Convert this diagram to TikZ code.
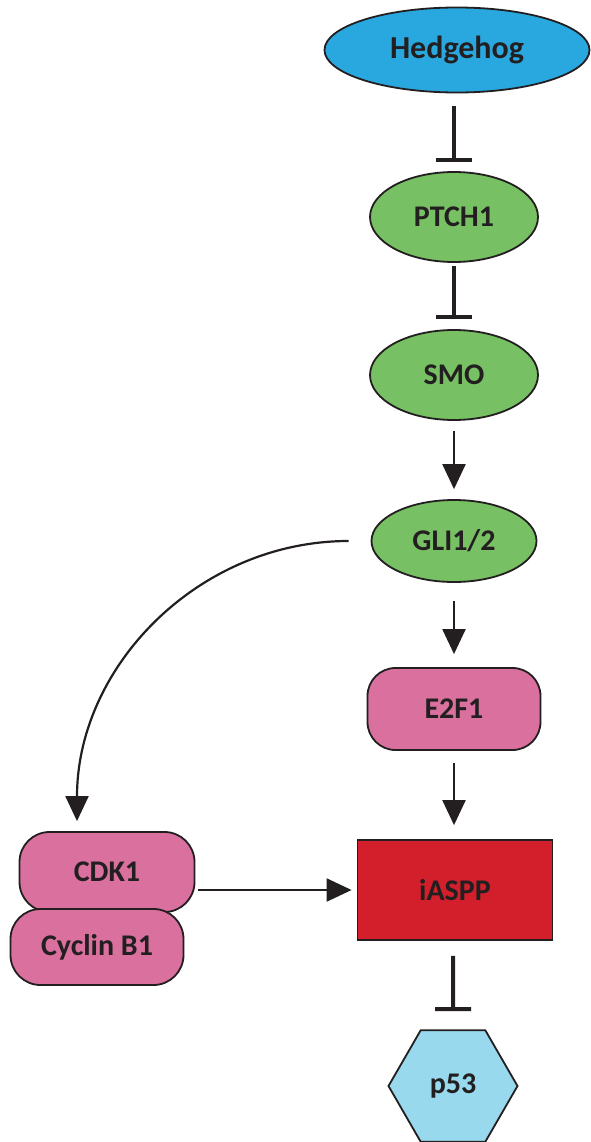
\documentclass[tikz,border=0pt]{standalone}
\usepackage{fontspec}
\setmainfont{Carlito}
\usetikzlibrary{shapes.geometric,arrows.meta}
\definecolor{ink}{HTML}{231F20}
\definecolor{hhblue}{HTML}{29A8E0}
\definecolor{grn}{HTML}{77C063}
\definecolor{pnk}{HTML}{D9709E}
\definecolor{rd}{HTML}{D21F2B}
\definecolor{lblue}{HTML}{98D9EE}
\begin{document}
\begin{tikzpicture}[x=1pt,y=-1pt,
  base/.style={draw=ink, line width=1.8pt, text=ink, inner sep=0pt,
    font=\fontsize{30}{32}\selectfont\bfseries},
  oval/.style={base, ellipse, fill=grn, minimum width=168pt, minimum height=90pt},
  pill/.style={base, rounded corners=28pt, fill=pnk, minimum width=173pt, minimum height=82pt},
  act/.style={draw=ink, line width=2.2pt, -{Triangle[width=23pt,length=25pt]}},
  inh/.style={draw=ink, line width=4pt, -{Bar[width=36pt]}}
]
\useasboundingbox (0,0) rectangle (590,1142);
\node[base, ellipse, fill=hhblue, minimum width=265pt, minimum height=85pt, font=\fontsize{32}{34}\selectfont\bfseries] (hh) at (457,50) {Hedgehog};
\node[oval] (ptch) at (454,217) {PTCH1};
\node[oval] (smo) at (454,375) {SMO};
\node[oval, minimum width=165pt, minimum height=82pt] (gli) at (454,541) {GLI1/2};
\node[pill] (e2f1) at (454,709) {E2F1};
\node[base, rectangle, fill=rd, minimum width=195pt, minimum height=100pt] (iaspp) at (455,890) {iASPP};
\node[base, regular polygon, regular polygon sides=6, fill=lblue, minimum size=129pt] (p53) at (453,1086) {p53};
\node[pill, minimum width=175pt, minimum height=80pt, rounded corners=30pt] (cdk) at (107,872) {CDK1};
\node[pill, minimum width=173pt, minimum height=76pt, rounded corners=30pt] (cyc) at (97,947) {Cyclin B1};

\draw[inh, shorten <=13pt, shorten >=9pt] (hh.south -| ptch) -- (ptch.north);
\draw[inh, shorten <=3pt, shorten >=10pt] (ptch.south) -- (smo.north);
\draw[act, shorten <=10pt, shorten >=10pt] (smo.south) -- (gli.north);
\draw[act, shorten <=18pt, shorten >=13pt] (gli.south) -- (e2f1.north);
\draw[act, shorten <=12pt, shorten >=14pt] (e2f1.south) -- (iaspp.north -| e2f1);
\draw[inh, shorten <=15pt, shorten >=18pt] (iaspp.south -| p53) -- (p53.north);
\draw[act, shorten <=3pt, shorten >=5pt] (cdk.east |- iaspp.west) -- (iaspp.west);
\draw[act, shorten <=22pt] (gli.west) .. controls (199,541) and (77,666) .. ([xshift=-30pt,yshift=10pt]cdk.north);
\end{tikzpicture}
\end{document}
